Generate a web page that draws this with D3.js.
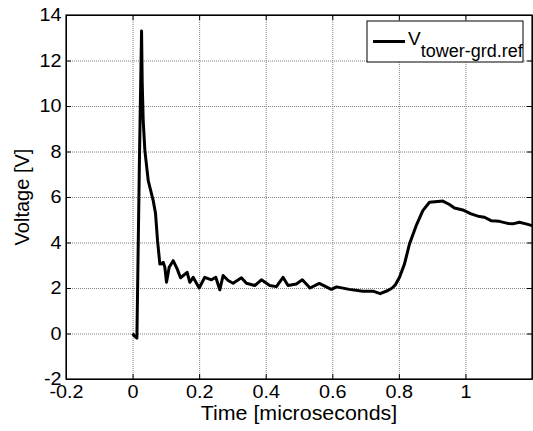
<!DOCTYPE html>
<html>
<head>
<meta charset="utf-8">
<script src="https://cdn.jsdelivr.net/npm/d3@7"></script>
<style>
  body { margin: 0; background: #fff; }
  svg { display: block; }
  .grid line { stroke: #808080; stroke-dasharray: 1,1; }
  .grid path { display: none; }
</style>
</head>
<body>
<svg class="voltageChart"></svg>
<script>
// waveform
const timeUs = [0.000, 0.005, 0.013, 0.021, 0.027, 0.029, 0.032, 0.037, 0.047, 0.062, 0.069, 0.075,
  0.082, 0.087, 0.092, 0.097, 0.102, 0.110, 0.122, 0.134, 0.144, 0.164, 0.172, 0.182, 0.200,
  0.217, 0.237, 0.250, 0.262, 0.272, 0.287, 0.302, 0.327, 0.342, 0.367, 0.387, 0.412, 0.432,
  0.452, 0.467, 0.492, 0.510, 0.533, 0.561, 0.597, 0.613, 0.651, 0.692, 0.722, 0.744, 0.767,
  0.780, 0.790, 0.802, 0.817, 0.832, 0.852, 0.872, 0.892, 0.917, 0.932, 0.952, 0.967, 0.992,
  1.017, 1.042, 1.057, 1.077, 1.102, 1.127, 1.142, 1.162, 1.182, 1.200];
const voltage = [0.00, -0.10, -0.20, 8.0, 13.30, 11.0, 9.35, 8.04, 6.72, 5.84, 5.27, 4.08,
  3.05, 3.06, 3.13, 2.91, 2.25, 2.91, 3.20, 2.84, 2.45, 2.69, 2.25, 2.47, 2.00,
  2.47, 2.36, 2.47, 1.92, 2.55, 2.33, 2.21, 2.45, 2.21, 2.11, 2.36, 2.11, 2.06,
  2.47, 2.11, 2.18, 2.36, 2.00, 2.20, 1.94, 2.05, 1.94, 1.86, 1.86, 1.75, 1.89,
  2.00, 2.15, 2.47, 3.06, 3.94, 4.74, 5.40, 5.77, 5.80, 5.82, 5.67, 5.52, 5.43,
  5.26, 5.14, 5.11, 4.96, 4.93, 4.84, 4.82, 4.89, 4.82, 4.74];

const xTicks = [-0.2, 0, 0.2, 0.4, 0.6, 0.8, 1.0, 1.2];
const xTickLabels = [-0.2, 0, 0.2, 0.4, 0.6, 0.8, 1.0];
const yTicks = [-2, 0, 2, 4, 6, 8, 10, 12, 14];

const seriesName = "V";
const seriesSub = "tower-grd.ref";

document.addEventListener('DOMContentLoaded', function(){
    drawChart_voltage();
})

function drawChart_voltage() {
    const margin = {top: 15, right: 1, bottom: 52, left: 66},
    width = 533 - margin.left - margin.right,
    height = 431 - margin.top - margin.bottom;

    const font = "'Liberation Sans', Arial, sans-serif";

    const svg = d3.select(".voltageChart")
        .attr("width", 533)
        .attr("height", 431)
        .append("g")
        .attr("transform", `translate(${margin.left},${margin.top})`);

    const data = timeUs.map((t, i) => ({t: t, v: voltage[i]}));

    var x = d3.scaleLinear().domain([-0.2, 1.2]).range([0, width]);
    var y = d3.scaleLinear().domain([-2, 14]).range([height, 0]);

    // grid
    svg.append("g")
        .attr("class", "grid")
        .attr("transform", "translate(0," + height + ")")
        .call(d3.axisBottom(x).tickValues(xTicks).tickSize(-height).tickFormat(""));
    svg.append("g")
        .attr("class", "grid")
        .call(d3.axisLeft(y).tickValues(yTicks).tickSize(-width).tickFormat(""));

    // axes with inward ticks on all four sides
    svg.append("g")
        .attr("transform", "translate(0," + height + ")")
        .call(d3.axisBottom(x).tickValues(xTicks).tickSizeInner(-5).tickSizeOuter(0).tickPadding(6)
            .tickFormat(d => xTickLabels.includes(d) ? String(d) : ""));
    svg.append("g")
        .call(d3.axisTop(x).tickValues(xTicks).tickSizeInner(-5).tickSizeOuter(0).tickFormat(""));
    svg.append("g")
        .call(d3.axisLeft(y).tickValues(yTicks).tickSizeInner(-5).tickSizeOuter(0).tickPadding(4)
            .tickFormat(d => String(d)));
    svg.append("g")
        .attr("transform", "translate(" + width + ",0)")
        .call(d3.axisRight(y).tickValues(yTicks).tickSizeInner(-5).tickSizeOuter(0).tickFormat(""));

    // the figure's text is a little wider than Liberation Sans
    svg.selectAll(".tick text")
        .style("font-size", "18px")
        .style("font-family", font)
        .style("fill", "black")
        .attr("transform", "scale(1.1,1)");

    // box
    svg.append("rect")
        .attr("width", width)
        .attr("height", height)
        .attr("fill", "none")
        .attr("stroke", "black")
        .attr("stroke-width", 1.2);

    // waveform
    const line = d3.line()
        .x(d => x(d.t))
        .y(d => y(d.v));

    svg.append("path")
        .datum(data)
        .attr("style", "stroke: black; stroke-width: 3px; fill: none; stroke-linejoin: round;")
        .attr("d", line);

    // axis labels
    svg.append("text")
        .attr("text-anchor", "middle")
        .attr("transform", `translate(${width / 2},${height + 41}) scale(1.07,1)`)
        .text("Time [microseconds]")
        .style("font-size", "20px")
        .style("font-family", font);

    svg.append("text")
        .attr("text-anchor", "middle")
        .attr("transform", "rotate(-90)")
        .attr("x", -height / 2)
        .attr("y", -37)
        .text("Voltage [V]")
        .style("font-size", "20px")
        .style("font-family", font);

    // legend
    const lg = svg.append("g").attr("transform", `translate(${367 - margin.left},${21 - margin.top})`);
    lg.append("rect")
        .attr("width", 156)
        .attr("height", 41)
        .attr("fill", "white")
        .attr("stroke", "black")
        .attr("stroke-width", 1);
    lg.append("line")
        .attr("x1", 6).attr("x2", 38)
        .attr("y1", 20.5).attr("y2", 20.5)
        .attr("stroke", "black")
        .attr("stroke-width", 3);
    const lt = lg.append("text")
        .attr("x", 41)
        .attr("y", 24)
        .style("font-size", "18px")
        .style("font-family", font);
    lt.append("tspan").style("font-size", "19px").text(seriesName);
    lt.append("tspan").attr("dy", 11.5).text(seriesSub);
}
</script>
</body>
</html>
